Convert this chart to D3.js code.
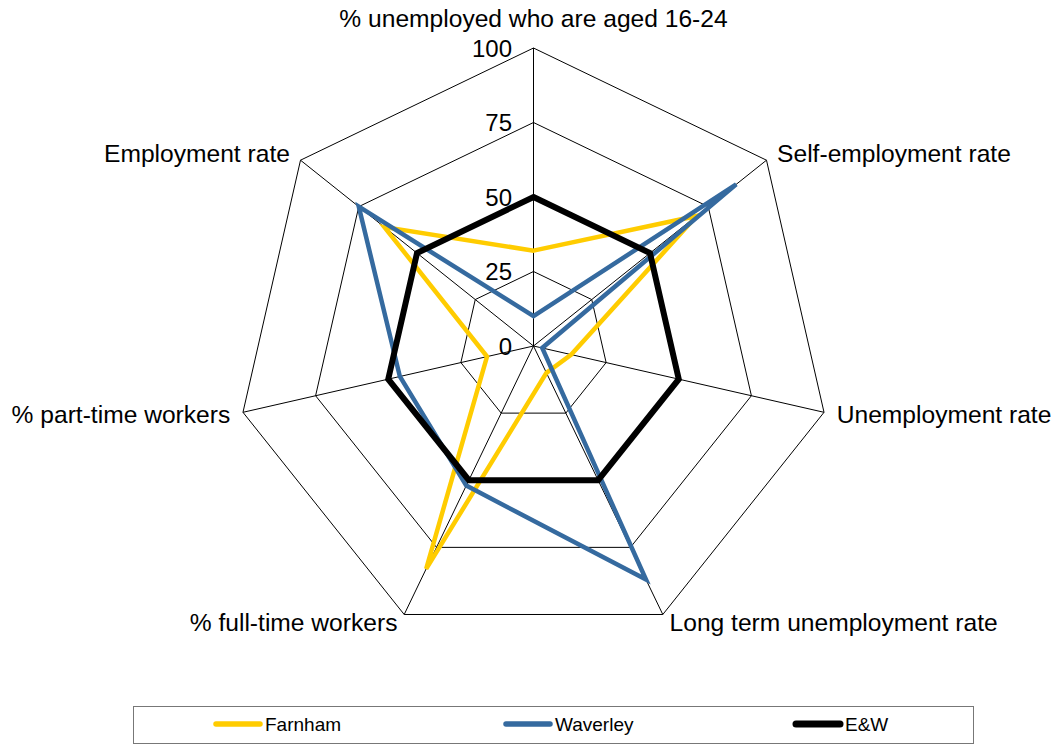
<!DOCTYPE html>
<html>
<head>
<meta charset="utf-8">
<script src="https://cdn.jsdelivr.net/npm/d3@7"></script>
<style>
  body { margin: 0; background: white; }
  svg text { font-family: "Liberation Sans", Arial, sans-serif; fill: black; }
</style>
</head>
<body>
<svg id="radar" width="1063" height="745"></svg>
<script>
// axes, clockwise from the top
const axes = ["% unemployed who are aged 16-24", "Self-employment rate", "Unemployment rate",
  "Long term unemployment rate", "% full-time workers", "% part-time workers", "Employment rate"];
const farnham = [32, 70, 13, 10, 83, 16, 64];
const waverley = [10, 87, 3, 87, 52, 46, 75];
const eandw = [50, 50, 50, 50, 50, 50, 50];
const ticks = [0, 25, 50, 75, 100];
const seriesNames = ["Farnham", "Waverley", "E&W"];

const colors = ["#FFCC00", "#356A9F", "#000000"];
const widths = [4.5, 4.5, 6];

const svg = d3.select("svg#radar");
const cx = 533.5, cy = 346;
const r = d3.scaleLinear().domain([0, 100]).range([0, 298]);
const step = 2 * Math.PI / axes.length;
const chart = svg.append("g").attr("transform", "translate(" + cx + "," + cy + ")");

//grid rings
const ring = d3.lineRadial().angle((d, i) => i * step).radius(d => r(d)).curve(d3.curveLinearClosed);
ticks.filter(t => t > 0).forEach(function(t){
  chart.append("path").attr("d", ring(axes.map(() => t)))
    .attr("fill", "none").attr("stroke", "black").attr("stroke-width", 1);
});

//spokes and axis labels
axes.forEach(function(name, i){
  const a = i * step;
  const sx = Math.sin(a), sy = -Math.cos(a);
  chart.append("line").attr("x1", 0).attr("y1", 0)
    .attr("x2", r(100) * sx).attr("y2", r(100) * sy)
    .attr("stroke", "black").attr("stroke-width", 1);
  const lr = r(100) + 11;
  let anchor = "middle";
  if (sx > 0.01) anchor = "start";
  if (sx < -0.01) anchor = "end";
  const t = chart.append("text").text(name).style("font-size", "24.6px").attr("text-anchor", anchor);
  if (i === 0) {
    t.attr("x", 0).attr("y", -r(100) - 21.5);
  } else {
    t.attr("x", lr * sx + (sx > 0 ? 2 : -2)).attr("y", lr * sy - (sy > 0.5 ? 2 : 0)).attr("dominant-baseline", "central");
  }
});

//tick labels
ticks.forEach(function(t){
  chart.append("text").text(t).attr("x", -21.5).attr("y", -r(t))
    .attr("text-anchor", "end").attr("dominant-baseline", "central")
    .style("font-size", "24px");
});

//series
const series = [farnham, waverley, eandw];
series.forEach(function(vals, k){
  chart.append("path").attr("d", ring(vals))
    .attr("fill", "none").attr("stroke", colors[k]).attr("stroke-width", widths[k])
    .attr("stroke-linejoin", "miter");
});

//legend
const legend = svg.append("g");
legend.append("rect").attr("x", 133.5).attr("y", 706.5).attr("width", 840).attr("height", 37)
  .attr("fill", "white").attr("stroke", "#777").attr("stroke-width", 1);
seriesNames.forEach(function(name, k){
  const x0 = 214 + k * 290;
  legend.append("line").attr("x1", x0 + 2).attr("x2", x0 + 46).attr("y1", 724).attr("y2", 724)
    .attr("stroke", colors[k]).attr("stroke-width", widths[k] + 1).attr("stroke-linecap", "round");
  legend.append("text").text(name).attr("x", x0 + 51).attr("y", 724)
    .attr("dominant-baseline", "central").style("font-size", "19px");
});
</script>
</body>
</html>
